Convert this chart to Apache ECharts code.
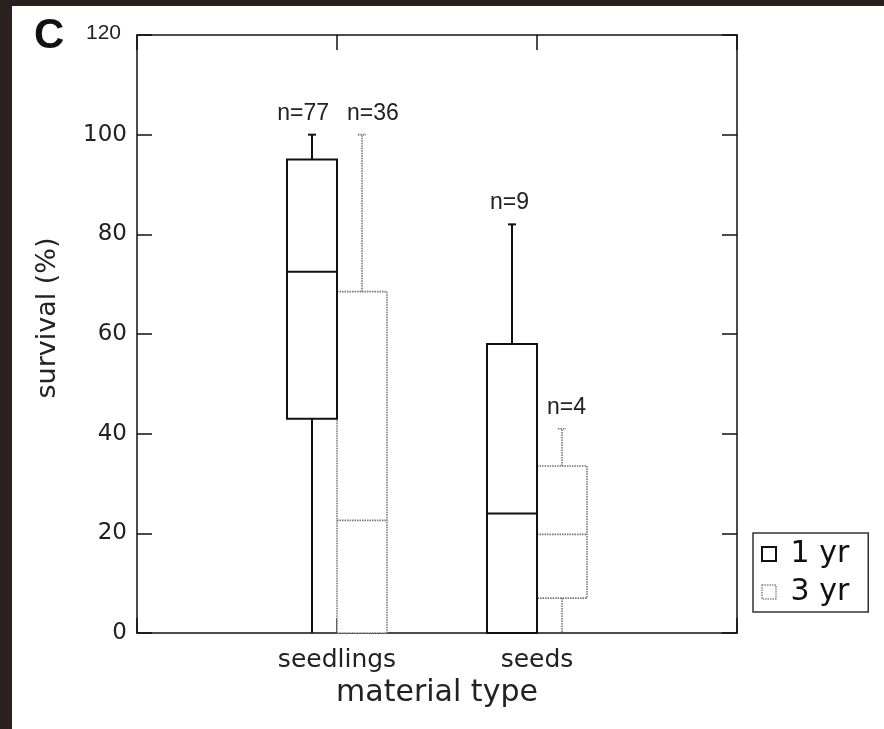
<!DOCTYPE html>
<html>
<head>
<meta charset="utf-8">
<script src="https://cdn.jsdelivr.net/npm/echarts@6/dist/echarts.min.js"></script>
<style>
html,body{margin:0;padding:0;background:#2a201d;}
#chart{width:884px;height:729px;}
</style>
</head>
<body>
<div id="chart"></div>
<script>
// ---- data ----
const categories = ['seedlings', 'seeds'];
const seriesNames = ['1 yr', '3 yr'];
// box stats per category: [min, q1, median, q3, max]
const yr1Stats = [[0, 43, 72.5, 95, 100], [0, 0, 24, 58, 82]];
const yr3Stats = [[0, 0, 22.6, 68.5, 100], [0, 7, 19.8, 33.5, 41]];
const yr1N = [77, 9];
const yr3N = [36, 4];
const yTicks = [0, 20, 40, 60, 80, 100, 120];

const FONT = 'Liberation Sans, Arial, sans-serif';
const WFONT = 'DejaVu Sans, sans-serif';

function buildData(stats, ns) {
  return stats.map((s, i) => [i + 1].concat(s).concat([ns[i]]));
}

function makeRender(seriesIdx) {
  const dotted = seriesIdx === 1;
  const stroke = dotted ? '#777' : '#111';
  const lw = dotted ? 1.6 : 2;
  const dash = dotted ? [1.5, 1] : null;
  return function (params, api) {
    const x = api.value(0);
    const off = seriesIdx === 0 ? -0.125 : 0.125;
    const cx = api.coord([x + off, 0])[0];
    const hw = api.size([0.125, 0])[0];
    const yMin = api.coord([x, api.value(1)])[1];
    const yQ1 = api.coord([x, api.value(2)])[1];
    const yMed = api.coord([x, api.value(3)])[1];
    const yQ3 = api.coord([x, api.value(4)])[1];
    const yMax = api.coord([x, api.value(5)])[1];
    const n = api.value(6);
    const ls = { stroke: stroke, lineWidth: lw, lineDash: dash, fill: null };
    const capW = 4;
    const children = [
      { type: 'rect', shape: { x: cx - hw, y: yQ3, width: 2 * hw, height: yQ1 - yQ3 },
        style: { fill: '#fff', stroke: stroke, lineWidth: lw, lineDash: dash } },
      { type: 'line', shape: { x1: cx - hw, y1: yMed, x2: cx + hw, y2: yMed }, style: ls },
      { type: 'line', shape: { x1: cx, y1: yQ3, x2: cx, y2: yMax }, style: ls },
      { type: 'line', shape: { x1: cx - capW, y1: yMax, x2: cx + capW, y2: yMax }, style: ls },
      { type: 'line', shape: { x1: cx, y1: yQ1, x2: cx, y2: yMin }, style: ls },
      { type: 'text',
        style: {
          text: 'n=' + n,
          x: seriesIdx === 0 ? cx + hw - 8 : cx - hw + 10,
          y: yMax - 10,
          align: seriesIdx === 0 ? 'right' : 'left',
          verticalAlign: 'bottom',
          fill: '#222',
          font: '23px ' + FONT
        } }
    ];
    return { type: 'group', children: children };
  };
}

const chart = echarts.init(document.getElementById('chart'));
const axisLineStyle = { color: '#111', width: 1.5 };
chart.setOption({
  animation: false,
  backgroundColor: '#2a201d',
  textStyle: { fontFamily: WFONT },
  graphic: {
    elements: [
      { type: 'rect', z: -100, left: 12, top: 6, shape: { width: 872, height: 723 }, style: { fill: '#fff' } },
      { type: 'text', left: 34, top: 15, style: { text: 'C', font: 'bold 42px ' + FONT, fill: '#111' } }
    ]
  },
  grid: { left: 137, top: 35, width: 600, height: 598 },
  legend: {
    orient: 'vertical',
    left: 753, top: 533,
    padding: [6, 19, 5, 8],
    itemGap: 8,
    itemWidth: 14, itemHeight: 14,
    borderColor: '#333', borderWidth: 1.5,
    backgroundColor: '#fff',
    textStyle: { fontSize: 30, color: '#111', fontFamily: WFONT },
    formatter: name => ' ' + name,
    data: [
      { name: seriesNames[0], icon: 'rect', itemStyle: { color: '#fff', borderColor: '#111', borderWidth: 2 } },
      { name: seriesNames[1], icon: 'rect', itemStyle: { color: '#fff', borderColor: '#888', borderWidth: 1.5, borderType: [1.5, 1] } }
    ]
  },
  xAxis: [
    {
      type: 'value', min: 0, max: 3, interval: 1, position: 'bottom',
      splitLine: { show: false },
      axisLine: { onZero: false, lineStyle: axisLineStyle },
      axisTick: { inside: true, length: 15, lineStyle: axisLineStyle },
      axisLabel: { margin: 15, fontSize: 25, color: '#222', fontFamily: WFONT,
        formatter: v => categories[v - 1] || '' },
      name: 'material type', nameLocation: 'middle', nameGap: 26,
      nameTextStyle: { fontSize: 30, color: '#222', fontFamily: WFONT, verticalAlign: 'top' }
    },
    {
      type: 'value', min: 0, max: 3, interval: 1, position: 'top',
      splitLine: { show: false },
      axisLine: { onZero: false, lineStyle: axisLineStyle },
      axisTick: { inside: true, length: 15, lineStyle: axisLineStyle },
      axisLabel: { show: false }
    }
  ],
  yAxis: [
    {
      type: 'value', min: yTicks[0], max: yTicks[yTicks.length - 1], interval: 20, position: 'left',
      splitLine: { show: false },
      axisLine: { show: true, onZero: false, lineStyle: axisLineStyle },
      axisTick: { show: true, inside: true, length: 15, lineStyle: axisLineStyle },
      axisLabel: { margin: 10, fontSize: 23, color: '#222', fontFamily: WFONT,
        formatter: v => v === 120 ? '{s|120}' : String(v),
        rich: { s: { fontSize: 21, color: '#222', fontFamily: FONT, padding: [0, 6, 4, 0] } } },
      name: 'survival (%)', nameLocation: 'middle', nameGap: 76, nameRotate: 90,
      nameTextStyle: { fontSize: 27, color: '#222', fontFamily: WFONT, padding: [0, 0, 0, 32] }
    },
    {
      type: 'value', min: 0, max: 120, interval: 20, position: 'right',
      splitLine: { show: false },
      axisLine: { show: true, onZero: false, lineStyle: axisLineStyle },
      axisTick: { show: true, inside: true, length: 15, lineStyle: axisLineStyle },
      axisLabel: { show: false }
    }
  ],
  series: [
    {
      name: seriesNames[0], type: 'custom', xAxisIndex: 0, yAxisIndex: 0,
      itemStyle: { color: '#fff', borderColor: '#111' },
      renderItem: makeRender(0),
      encode: { x: 0, y: [1, 2, 3, 4, 5] },
      data: buildData(yr1Stats, yr1N), z: 3
    },
    {
      name: seriesNames[1], type: 'custom', xAxisIndex: 0, yAxisIndex: 0,
      itemStyle: { color: '#fff', borderColor: '#888' },
      renderItem: makeRender(1),
      encode: { x: 0, y: [1, 2, 3, 4, 5] },
      data: buildData(yr3Stats, yr3N), z: 2
    }
  ]
});
</script>
</body>
</html>
